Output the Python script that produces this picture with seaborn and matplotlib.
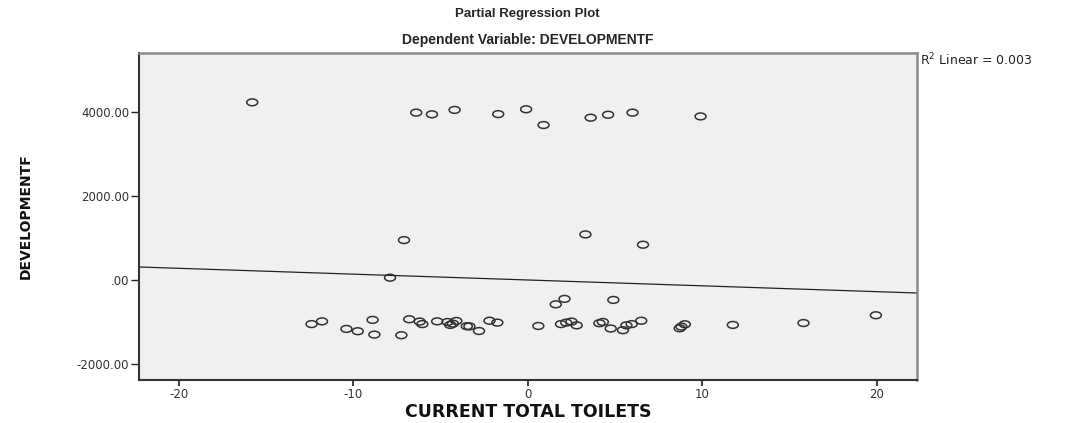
import numpy as np
import pandas as pd
import seaborn as sns
import matplotlib.pyplot as plt
from matplotlib.path import Path
from matplotlib.transforms import Affine2D
from matplotlib.ticker import FuncFormatter

# values (residuals of the partial regression)
toilets = [
    -15.8, -6.4, -5.5, -4.2, -1.7, -0.1, 0.9, 3.6, 4.6, 6.0, 9.9,
    -7.1, -7.9, 3.3, 6.6,
    1.6, 2.1, 4.9,
    -12.4, -11.8, -10.4, -9.75, -8.9, -8.8, -7.25, -6.8, -6.2, -6.05,
    -5.2, -4.6, -4.45, -4.3, -4.1, -3.5, -3.35, -2.8, -2.2, -1.75,
    0.6, 1.9, 2.2, 2.5, 2.8, 4.1, 4.3, 4.75, 5.45, 5.65, 5.95, 6.5,
    8.7, 8.8, 9.0, 11.75, 15.8, 19.95,
]
development = [
    4230, 3985, 3945, 4050, 3950, 4065, 3690, 3865, 3935, 3985, 3895,
    950, 55, 1085, 840,
    -580, -450, -475,
    -1050, -985, -1165, -1220, -950, -1300, -1315, -935, -990, -1050,
    -985, -1000, -1070, -1040, -975, -1100, -1105, -1215, -970, -1015,
    -1095, -1050, -1015, -990, -1080, -1030, -1000, -1155, -1195, -1080,
    -1050, -970, -1150, -1110, -1055, -1070, -1025, -840,
]
# fit line as drawn in the reference (R2 linear = 0.003)
fit_slope = -13.9
fit_intercept = 0.0
x_ticks = [-20, -10, 0, 10, 20]
y_ticks = [-2000, 0, 2000, 4000]
r2_text = "R$^2$ Linear = 0.003"

df = pd.DataFrame({"toilets": toilets, "development": development})

sns.set_style("white")
plt.rcParams["font.family"] = ["Liberation Sans", "DejaVu Sans"]
plt.rcParams["axes.unicode_minus"] = False
plt.rcParams["mathtext.fontset"] = "dejavusans"

fig = plt.figure(figsize=(10.68, 4.23), dpi=100)
ax = fig.add_axes([0.130, 0.1017, 0.7285, 0.773])
ax.set_facecolor("#f0f0f0")

# SPSS style open ellipse marker
ellipse = Path.unit_circle().transformed(Affine2D().scale(1.6, 1.0))

sns.scatterplot(data=df, x="toilets", y="development", ax=ax,
                marker=ellipse, s=62, facecolor="none",
                edgecolor="#333333", linewidth=1.1, zorder=3)
ax.axline((0, fit_intercept), slope=fit_slope, color="#222222",
          linewidth=0.9, zorder=2)

ax.set_xlim(-22.3, 22.3)
ax.set_ylim(-2381, 5405)
ax.set_xticks(x_ticks)
ax.set_yticks(y_ticks)


def fmt_y(v, pos):
    s = f"{v:.2f}"
    if s.startswith("0."):
        s = s[1:]
    return s


ax.yaxis.set_major_formatter(FuncFormatter(fmt_y))
ax.tick_params(axis="y", direction="out", length=6, width=1,
               color="#222222", labelsize=8.5, labelcolor="#333333",
               left=True, pad=1)
ax.tick_params(axis="x", direction="out", length=4.5, width=1.5,
               color="#444444", labelsize=8.5, labelcolor="#333333",
               bottom=True, pad=1)
for lab in ax.get_xticklabels() + ax.get_yticklabels():
    lab.set_family("DejaVu Sans")

for side in ["left", "bottom"]:
    ax.spines[side].set_color("#333333")
    ax.spines[side].set_linewidth(1.5)
for side in ["top", "right"]:
    ax.spines[side].set_color("#8a8a8a")
    ax.spines[side].set_linewidth(1.8)

ax.set_xlabel("CURRENT TOTAL TOILETS", fontsize=12.5, fontweight="bold",
              family="DejaVu Sans", color="#111111")
ax.xaxis.set_label_coords(0.5, -0.07)
ax.set_ylabel("DEVELOPMENTF", fontsize=10, fontweight="bold",
              family="DejaVu Sans", color="#111111")
ax.yaxis.set_label_coords(-0.136, 0.50)

fig.text(0.494, 0.967, "Partial Regression Plot", ha="center", va="center",
         fontsize=9.5, fontweight="bold")
fig.text(0.494, 0.905, "Dependent Variable: DEVELOPMENTF", ha="center",
         va="center", fontsize=10, fontweight="bold")
fig.text(0.861, 0.857, r2_text, ha="left", va="center", fontsize=9,
         color="#222222", family="DejaVu Sans")

fig.savefig("out.png", dpi=100)
